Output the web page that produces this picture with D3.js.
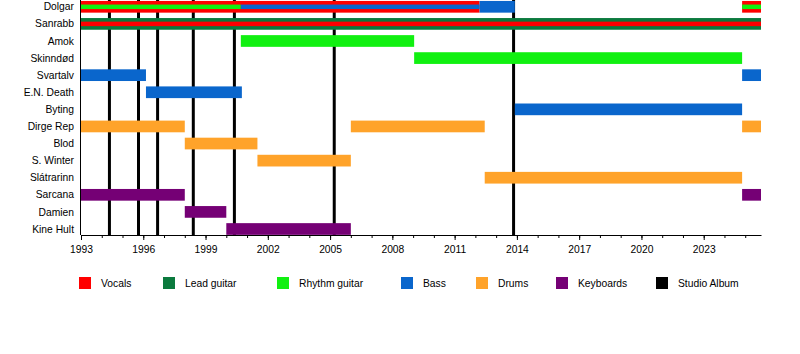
<!DOCTYPE html>
<html>
<head>
<meta charset="utf-8">
<script src="https://cdn.jsdelivr.net/npm/d3@7"></script>
<style>
  body { margin: 0; background: #fff; }
  svg text { font-family: "Liberation Sans", Arial, sans-serif; font-size: 10.3px; fill: #000; }
</style>
</head>
<body>
<svg id="chart" width="800" height="354"></svg>
<script>
const members = ["Dolgar", "Sanrabb", "Amok", "Skinndød", "Svartalv", "E.N. Death", "Byting",
    "Dirge Rep", "Blod", "S. Winter", "Slátrarinn", "Sarcana", "Damien", "Kine Hult"];

const roles = ["Vocals", "Lead guitar", "Rhythm guitar", "Bass", "Drums", "Keyboards", "Studio Album"];
const roleColors = ["#ff0000", "#0b7a3e", "#11f011", "#0a66cc", "#ffa32a", "#750075", "#000000"];

const startYear = 1993;
const endYear = 2025.76;

// [member, role, from, till, layer]
const periods = [
    ["Dolgar", "Vocals", 1993, 2012.2, "full"],
    ["Dolgar", "Rhythm guitar", 1993, 2000.7, "inner"],
    ["Dolgar", "Bass", 2000.7, 2012.2, "inner"],
    ["Dolgar", "Bass", 2012.2, 2013.9, "full"],
    ["Dolgar", "Vocals", 2024.85, endYear, "full"],
    ["Dolgar", "Rhythm guitar", 2024.85, endYear, "inner"],
    ["Sanrabb", "Lead guitar", 1993, endYear, "full"],
    ["Sanrabb", "Vocals", 1993, endYear, "inner"],
    ["Amok", "Rhythm guitar", 2000.7, 2009.05, "full"],
    ["Skinndød", "Rhythm guitar", 2009.05, 2024.85, "full"],
    ["Svartalv", "Bass", 1993, 1996.13, "full"],
    ["Svartalv", "Bass", 2024.85, endYear, "full"],
    ["E.N. Death", "Bass", 1996.13, 2000.75, "full"],
    ["Byting", "Bass", 2013.9, 2024.85, "full"],
    ["Dirge Rep", "Drums", 1993, 1998, "full"],
    ["Dirge Rep", "Drums", 2006, 2012.45, "full"],
    ["Dirge Rep", "Drums", 2024.85, endYear, "full"],
    ["Blod", "Drums", 1998, 2001.5, "full"],
    ["S. Winter", "Drums", 2001.5, 2006, "full"],
    ["Slátrarinn", "Drums", 2012.45, 2024.85, "full"],
    ["Sarcana", "Keyboards", 1993, 1998, "full"],
    ["Sarcana", "Keyboards", 2024.85, endYear, "full"],
    ["Damien", "Keyboards", 1998, 2000, "full"],
    ["Kine Hult", "Keyboards", 2000, 2006, "full"]
];

const albums = [1994.37, 1995.77, 1996.69, 1998.41, 2000.39, 2005.2, 2013.84];

const majorTicks = d3.range(1993, 2024, 3);
const minorTicks = d3.range(1993, 2026, 1);

const legendX = [79, 163, 277, 401, 476, 556, 656];

function drawChart() {
    const svg = d3.select('#chart');
    const plotLeft = 81, plotRight = 761, axisY = 235;

    const x = d3.scaleLinear().domain([startYear, endYear]).range([plotLeft, plotRight]);
    const y = d3.scalePoint().domain(members).range([6.8, 229]);
    const color = d3.scaleOrdinal().domain(roles).range(roleColors);

    const barH = 11.7, innerH = 4.5;

    // Studio album lines (behind bars)
    svg.append('g').selectAll('line')
        .data(albums)
        .enter().append('line')
        .attr('x1', d => x(d)).attr('x2', d => x(d))
        .attr('y1', 0).attr('y2', axisY)
        .attr('stroke', color('Studio Album'))
        .attr('stroke-width', 3);

    // Full bars first, then inner bars on top
    const bars = svg.append('g');
    bars.selectAll('.full')
        .data(periods.filter(d => d[4] === 'full'))
        .enter().append('rect')
        .attr('class', 'full')
        .attr('x', d => x(d[2]))
        .attr('y', d => y(d[0]) - barH / 2)
        .attr('width', d => x(d[3]) - x(d[2]))
        .attr('height', barH)
        .attr('fill', d => color(d[1]));

    bars.selectAll('.inner')
        .data(periods.filter(d => d[4] === 'inner'))
        .enter().append('rect')
        .attr('class', 'inner')
        .attr('x', d => x(d[2]))
        .attr('y', d => y(d[0]) - innerH / 2)
        .attr('width', d => x(d[3]) - x(d[2]))
        .attr('height', innerH)
        .attr('fill', d => color(d[1]));

    // Member names
    svg.append('g').selectAll('text')
        .data(members)
        .enter().append('text')
        .attr('x', 74)
        .attr('y', d => y(d))
        .attr('dy', '0.35em')
        .attr('text-anchor', 'end')
        .text(d => d);

    // Left edge line
    svg.append('line')
        .attr('x1', plotLeft - 0.5).attr('x2', plotLeft - 0.5)
        .attr('y1', 0).attr('y2', axisY)
        .attr('stroke', '#000');

    // Minor ticks
    svg.append('g')
        .attr('transform', `translate(0,${axisY})`)
        .call(d3.axisBottom(x).tickValues(minorTicks).tickSize(3).tickSizeOuter(0).tickFormat(''))
        .call(g => g.select('.domain').remove());

    // Major ticks + labels
    const ax = svg.append('g')
        .attr('transform', `translate(0,${axisY})`)
        .call(d3.axisBottom(x).tickValues(majorTicks).tickSize(5).tickSizeOuter(0).tickPadding(6).tickFormat(d3.format('d')));
    ax.attr('font-family', null).attr('font-size', null);

    // Legend
    const legend = svg.append('g').selectAll('g')
        .data(roles)
        .enter().append('g')
        .attr('transform', (d, i) => `translate(${legendX[i]},277)`);
    legend.append('rect')
        .attr('width', 12).attr('height', 12)
        .attr('fill', d => color(d));
    legend.append('text')
        .attr('x', 22).attr('y', 6)
        .attr('dy', '0.35em')
        .text(d => d);
}

drawChart();
</script>
</body>
</html>
